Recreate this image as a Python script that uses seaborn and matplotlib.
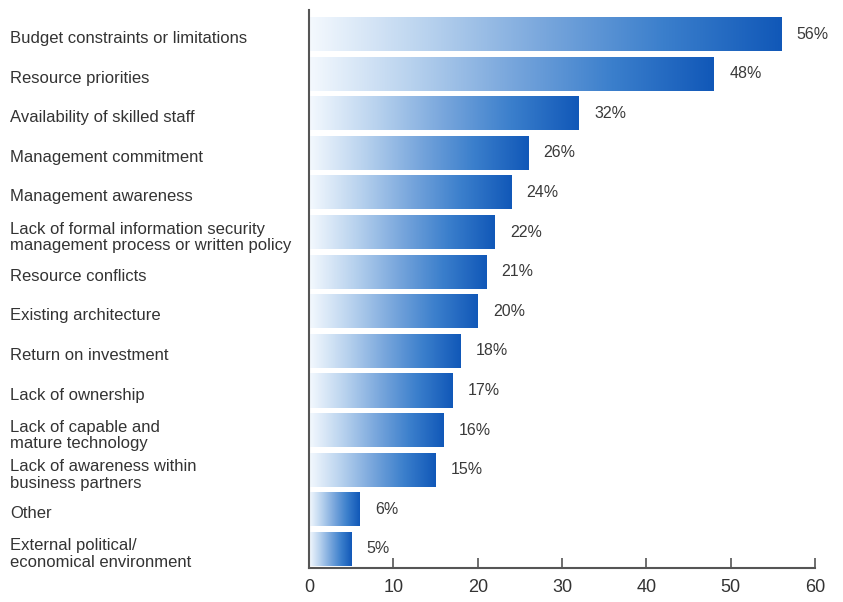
import numpy as np
import pandas as pd
import matplotlib
matplotlib.use("Agg")
import matplotlib.pyplot as plt
from matplotlib.colors import LinearSegmentedColormap
from matplotlib.transforms import ScaledTranslation
import seaborn as sns

categories = [
    "Budget constraints or limitations",
    "Resource priorities",
    "Availability of skilled staff",
    "Management commitment",
    "Management awareness",
    "Lack of formal information security\nmanagement process or written policy",
    "Resource conflicts",
    "Existing architecture",
    "Return on investment",
    "Lack of ownership",
    "Lack of capable and\nmature technology",
    "Lack of awareness within\nbusiness partners",
    "Other",
    "External political/\neconomical environment",
]
values = [56, 48, 32, 26, 24, 22, 21, 20, 18, 17, 16, 15, 6, 5]
value_labels = [f"{v}%" for v in values]
x_ticks = [0, 10, 20, 30, 40, 50, 60]

sns.set_theme(style="white")
plt.rcParams["font.family"] = ["Liberation Sans", "DejaVu Sans"]

df = pd.DataFrame({"cat": categories, "val": values})

fig = plt.figure(figsize=(8.43, 6.02), dpi=100)
ax = fig.add_axes([0.3666, 0.0565, 0.6004, 0.9265])

sns.barplot(data=df, x="val", y="cat", orient="h", ax=ax, color="#1560bd",
            width=0.86, saturation=1, edgecolor="none")

cmap = LinearSegmentedColormap.from_list(
    "bluegrad", ["#f4f9fe", "#b8d2ee", "#78a6dc", "#3b7fcc", "#1158b8"])
grad = np.linspace(0, 1, 256).reshape(1, -1)
for p in ax.patches:
    x0, y0 = p.get_x(), p.get_y()
    w, h = p.get_width(), p.get_height()
    im = ax.imshow(grad, extent=[x0, x0 + w, y0 + h, y0], cmap=cmap,
                   aspect="auto", interpolation="bicubic", zorder=3)
    im.set_clip_path(p)

for i, (v, lab) in enumerate(zip(values, value_labels)):
    ax.text(v + 1.8, i, lab, va="center", ha="left", fontsize=11.5,
            color="#3a3a3a", zorder=4)

ax.set_xlim(0, 60)
ax.set_ylim(13.48, -0.6)
ax.set_xticks(x_ticks)
ax.set_xticklabels([str(t) for t in x_ticks], fontsize=13, color="#333333")
ax.set_xlabel("")
ax.set_ylabel("")

ax.tick_params(axis="x", direction="in", length=7, width=1.2, color="#555555",
               pad=8, bottom=True)
ax.tick_params(axis="y", length=0, pad=215)
shift = ScaledTranslation(0, -3 / 100, fig.dpi_scale_trans)
for t in ax.get_yticklabels():
    t.set_horizontalalignment("left")
    t.set_fontsize(12)
    t.set_color("#333333")
    t.set_linespacing(1.15)
    t.set_transform(t.get_transform() + shift)

for s in ["top", "right"]:
    ax.spines[s].set_visible(False)
for s in ["left", "bottom"]:
    ax.spines[s].set_color("#555555")
    ax.spines[s].set_linewidth(1.5)
    ax.spines[s].set_zorder(5)

fig.savefig("out.png", dpi=100)
